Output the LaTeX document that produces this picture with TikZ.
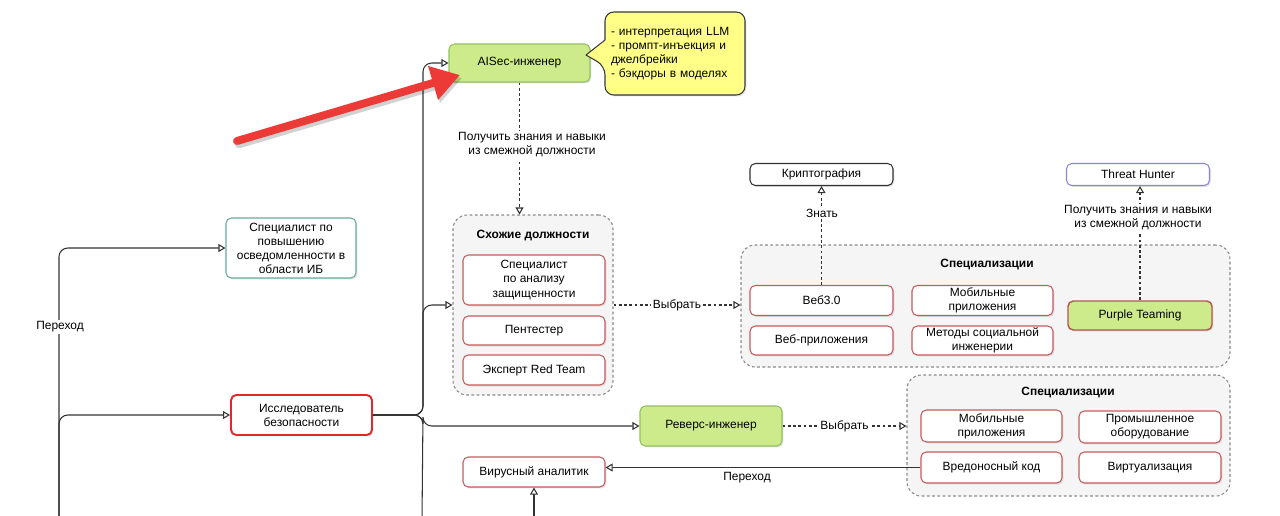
\documentclass[tikz,border=0pt]{standalone}
\usepackage{fontspec}
\setmainfont{Liberation Sans}
\usetikzlibrary{arrows.meta,shadows}
\newdimen\pxu \pxu=0.02cm
\definecolor{redb}{HTML}{C75B5B}
\definecolor{brightred}{HTML}{E02A2A}
\definecolor{tealb}{HTML}{67AB9F}
\definecolor{greenf}{HTML}{CDEB8B}
\definecolor{greenb}{HTML}{93BF62}
\definecolor{purpleb}{HTML}{B85450}
\definecolor{notef}{HTML}{FFFF88}
\definecolor{noteb}{HTML}{36393D}
\definecolor{contf}{HTML}{F5F5F5}
\definecolor{contb}{HTML}{8A8A8A}
\definecolor{thb}{HTML}{8C86D8}
\definecolor{linec}{HTML}{333333}
\definecolor{arrowred}{HTML}{EC3B36}
\begin{document}
\begin{tikzpicture}[x=0.02cm,y=-0.02cm,
  font=\fontsize{6.8}{8}\selectfont,
  sz/.style 2 args={minimum width=#1\pxu, minimum height=#2\pxu, inner sep=1pt},
  box/.style={draw, fill=white, rounded corners=3pt, align=center, line width=0.6pt,
    drop shadow={opacity=0.22, shadow xshift=0.8pt, shadow yshift=-0.8pt}},
  redbox/.style={box, draw=redb},
  greenbox/.style={box, draw=greenb, fill=greenf},
  cont/.style={draw=contb, fill=contf, rounded corners=8pt, line width=0.6pt,
    dash pattern=on 1.6pt off 1.4pt},
  title/.style={font=\fontsize{6.8}{8}\selectfont\bfseries},
  tip/.style={-{Triangle[length=4pt,width=4.5pt,fill=white]}},
  conn/.style={draw=linec, line width=0.6pt, tip},
  dotc/.style={draw=linec, line width=0.6pt, tip, dash pattern=on 1.6pt off 1.4pt},
  lbl/.style={fill=white, inner sep=1pt, align=center},
]
\useasboundingbox (0,0) rectangle (1280,515);

% containers
\node[cont, sz={160}{180}] (sim) at (533,305) {};
\node[title] (simt) at (533,236) {Схожие должности};
\node[cont, sz={489}{122}] (spec1) at (985.5,306) {};
\node[title] (s1t) at (987,265) {Специализации};
\node[cont, sz={323}{121}] (spec2) at (1068.5,435.5) {};
\node[title] (s2t) at (1068,393) {Специализации};

% boxes
\node[greenbox, sz={141}{38}] (aisec) at (519.5,63) {AISec-инженер};

% note callout
\coordinate (nnw) at (605,12);
\coordinate (nne) at (745,12);
\coordinate (nse) at (745,95);
\coordinate (nsw) at (605,95);
\coordinate (pb1) at (605,40);
\coordinate (pb2) at (605,66);
\coordinate (ptip) at (586,55);
\path[draw=noteb, fill=notef, line width=0.6pt, line join=round,
  drop shadow={opacity=0.22, shadow xshift=0.8pt, shadow yshift=-0.8pt}]
  [rounded corners=5pt] (pb1) -- (nnw) -- (nne) -- (nse) -- (nsw) -- (pb2)
  [sharp corners] -- (ptip) -- cycle;
\node[text width=128\pxu, inner sep=0pt, align=left] (note) at (675,53.5)
  {- интерпретация LLM\\- промпт-инъекция и\\джелбрейки\\- бэкдоры в моделях};

\node[box, draw=tealb, sz={130}{60}] (aware) at (291,248) {Специалист по\\повышению\\осведомленности в\\области ИБ};
\node[box, draw=brightred, line width=1.1pt, sz={141}{40}] (issl) at (301.5,415) {Исследователь\\безопасности};
\node[redbox, sz={142}{50}] (sp1) at (534,280) {Специалист\\по анализу\\защищенности};
\node[redbox, sz={142}{29}] (pent) at (534,330.5) {Пентестер};
\node[redbox, sz={142}{30}] (redt) at (534,370) {Эксперт Red Team};
\node[redbox, sz={142}{30}] (vir) at (534,472) {Вирусный аналитик};
\node[greenbox, sz={142}{40}] (rev) at (711,426) {Реверс-инженер};
\node[box, draw=linec, sz={143}{22}] (crypto) at (821.5,174.5) {Криптография};
\node[box, draw=thb, sz={143}{22}] (th) at (1138,174.5) {Threat Hunter};
\node[redbox, sz={143}{30}] (web3) at (821.5,300.5) {Веб3.0};
\node[redbox, sz={143}{29}] (webapp) at (821.5,340.5) {Веб-приложения};
\node[redbox, sz={141}{30}] (mob1) at (982.5,300.5) {Мобильные\\приложения};
\node[redbox, sz={141}{29}] (soc) at (982.5,340.5) {Методы социальной\\инженерии};
\node[box, draw=purpleb, fill=greenf, line width=0.8pt, sz={144}{29}] (purple) at (1140,315.5) {Purple Teaming};
\node[redbox, sz={141}{32}] (mob2) at (991.5,426) {Мобильные\\приложения};
\node[redbox, sz={142}{32}] (prom) at (1150,427) {Промышленное\\оборудование};
\node[redbox, sz={141}{31}] (vred) at (991.5,467.5) {Вредоносный код};
\node[redbox, sz={142}{31}] (virt) at (1150,467.5) {Виртуализация};

% left bus
\coordinate (lsrc) at (59,520);
\draw[conn, rounded corners=5pt] (lsrc) |- (aware.west);
\draw[conn, rounded corners=5pt] (lsrc) |- (issl.west);
\node[lbl] (perehod1) at (60,327) {Переход};

% right bus
\coordinate (rbus) at (422,520);
\draw[conn, rounded corners=5pt] (issl.east) -- ++(50,0) |- (aisec.west);
\draw[conn, rounded corners=5pt] (issl.east) -- ++(50,0) |- (sim.west);
\draw[conn, rounded corners=5pt] (issl.east) -- ++(50,0) |- (rev.west);
\draw[draw=linec, line width=0.6pt, rounded corners=5pt] (issl.east) -- ++(50,0) -- (rbus);

% dotted connectors
\draw[dotc] (aisec.south) -- (aisec.south |- sim.north);
\node[lbl] (l1) at (532,145) {Получить знания и навыки\\из смежной должности};
\draw[dotc] (sim.east) -- (sim.east -| spec1.west) node[lbl, midway] (l2) {Выбрать};
\draw[dotc] (web3.north) -- (crypto.south);
\node[lbl] (l3) at (822,213) {Знать};
\draw[dotc] (purple.north) -- (purple.north |- th.south);
\node[lbl] (l4) at (1138,218) {Получить знания и навыки\\из смежной должности};
\draw[dotc] (rev.east) -- (rev.east -| spec2.west) node[lbl, midway] (l5) {Выбрать};

% solid connectors bottom
\draw[conn] (vred.west) -- (vred.west -| vir.east);
\node[lbl] (l6) at (747,478) {Переход};
\coordinate (vsrc) at (534,520);
\draw[conn] (vsrc) -- (vir.south);

% red pointer arrow
\coordinate (rt) at (237,141);
\coordinate (rh) at (460,75);
\draw[black, opacity=0.18, line width=4.8pt, line cap=round,
  -{Triangle[length=16pt,width=19pt]}] ([shift={(2,3)}]rt) -- ([shift={(2,3)}]rh);
\draw[arrowred, line width=4.5pt, line cap=round,
  -{Triangle[length=16pt,width=19pt]}] (rt) -- (rh);
\end{tikzpicture}
\end{document}
